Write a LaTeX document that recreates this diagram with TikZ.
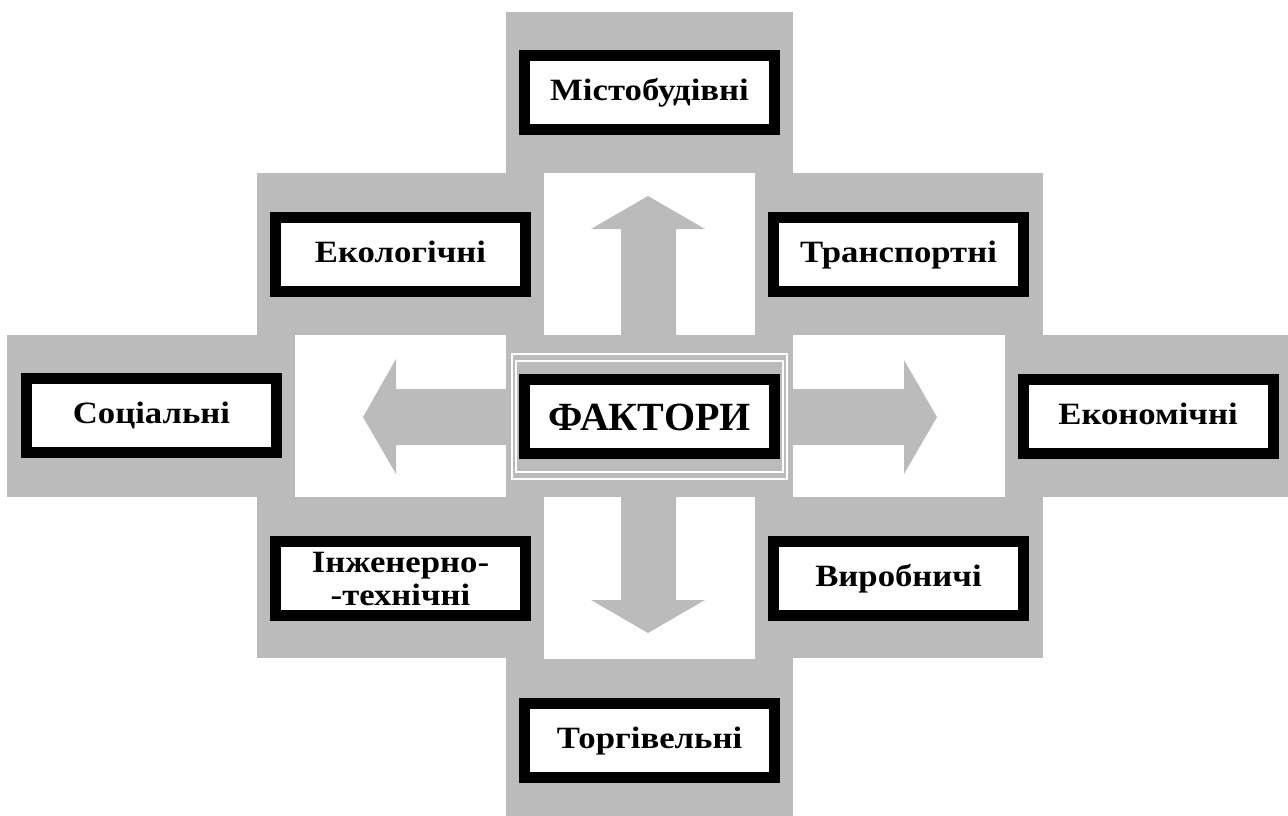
\documentclass[tikz,border=0pt]{standalone}
\usepackage{fontspec}
\setmainfont{Liberation Serif}
\newfontfamily\boxfont{Liberation Serif}[FakeStretch=1.12]
\usepackage{tikz}

\definecolor{bandgray}{RGB}{187,187,187}
\tikzset{
 factor/.style={draw=black,line width=11pt,fill=white,minimum width=250pt,minimum height=74pt,
   inner sep=0pt,align=center,font=\boxfont\bfseries\fontsize{31}{33}\selectfont},
 oneline/.style={factor,text height=22pt,text depth=7pt},
 frameline/.style={draw=white,line width=2.5pt}
}

\begin{document}
\begin{tikzpicture}[x=1pt,y=-1pt]
\useasboundingbox (0,0) rectangle (1288,816);
% grey cross
\fill[bandgray] (506,12) rectangle (793,816);
\fill[bandgray] (257,173) rectangle (1043,658);
\fill[bandgray] (7,335) rectangle (1288,497);
% white fields
\fill[white] (544,173) rectangle (755,335);
\fill[white] (295,335) rectangle (506,497);
\fill[white] (793,335) rectangle (1005,497);
\fill[white] (544,497) rectangle (755,659);
% arrows
\fill[bandgray] (621,335) -- (621,229) -- (591,229) -- (648,196) -- (705,229) -- (676,229) -- (676,335) -- cycle;
\fill[bandgray] (621,497) -- (621,600) -- (591,600) -- (648,633) -- (705,600) -- (676,600) -- (676,497) -- cycle;
\fill[bandgray] (506,389) -- (396,389) -- (396,359) -- (363,417) -- (396,474) -- (396,445) -- (506,445) -- cycle;
\fill[bandgray] (793,389) -- (904,389) -- (904,360) -- (937,417) -- (904,474) -- (904,445) -- (793,445) -- cycle;
% frame round the centre
\draw[frameline] (512,354) rectangle (787,479);
\draw[frameline] (516,361) rectangle (783,472);

\node[oneline] (mist) at (649.5,92.5) {Містобудівні};
\node[oneline] (ekol) at (400.5,254.5) {Екологічні};
\node[oneline] (trans) at (898.5,254.5) {Транспортні};
\node[oneline] (soc) at (151.5,415.5) {Соціальні};
\node[oneline,text height=36pt,font=\bfseries\fontsize{40}{44}\selectfont] (fakt) at (649.5,416) {ФАКТОРИ};
\node[oneline] (ekon) at (1148,416.5) {Економічні};
\node[factor] (inzh) at (400.5,578.5) {Інженерно-\\-технічні};
\node[oneline] (vyr) at (898.5,578.5) {Виробничі};
\node[oneline] (torg) at (649.5,740.5) {Торгівельні};
\end{tikzpicture}
\end{document}
